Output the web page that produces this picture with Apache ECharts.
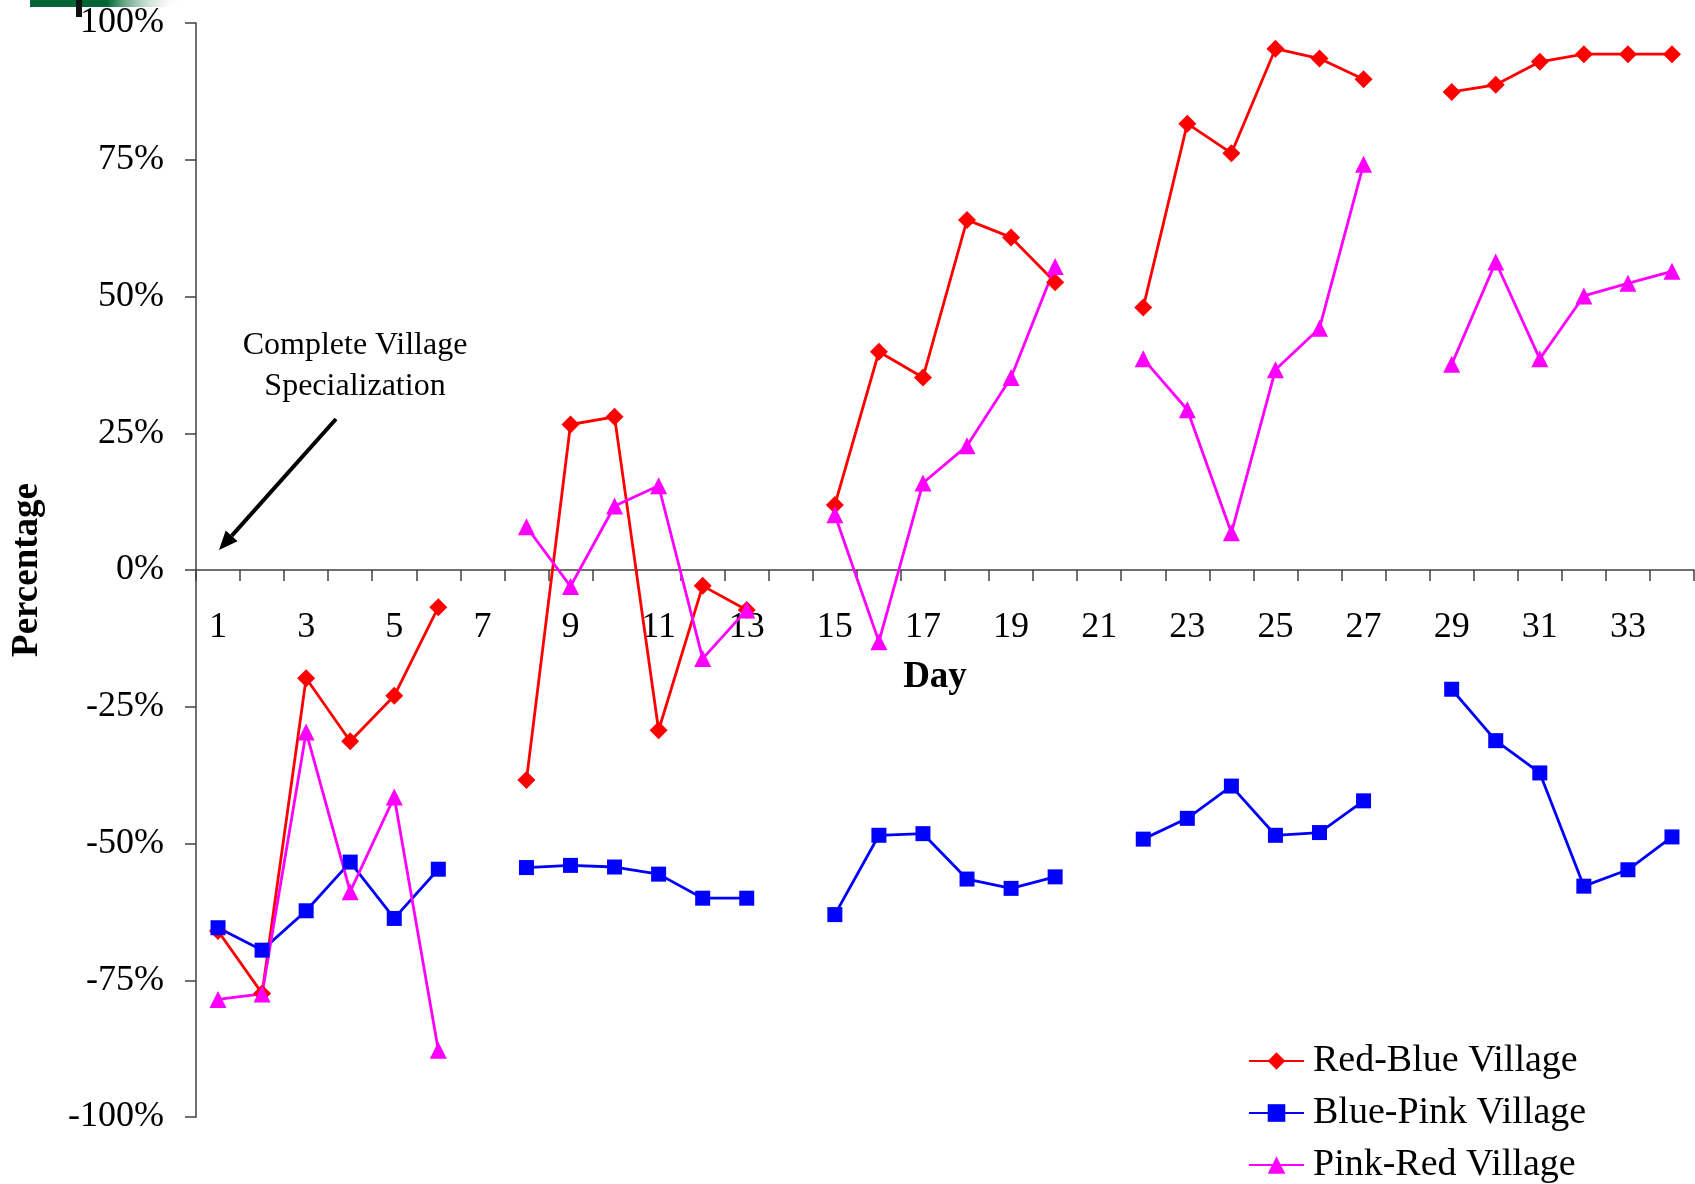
<!DOCTYPE html>
<html>
<head>
<meta charset="utf-8">
<script src="https://cdn.jsdelivr.net/npm/echarts@6/dist/echarts.min.js"></script>
<style>html,body{margin:0;padding:0;background:#fff;}#c{width:1695px;height:1184px;}</style>
</head>
<body>
<div id="c"></div>
<script>
const days = ['1','2','3','4','5','6','7','8','9','10','11','12','13','14','15','16','17','18','19','20','21','22','23','24','25','26','27','28','29','30','31','32','33','34'];
const yTicks = [-100, -75, -50, -25, 0, 25, 50, 75, 100];
const redBlue = [-66, -77.4, -19.8, -31.3, -23.0, -6.8, null, -38.4, 26.6, 28.0, -29.3, -2.9, -7.3, null, 11.9, 39.9, 35.2, 64.0, 60.8, 52.6, null, 48.0, 81.6, 76.2, 95.3, 93.5, 89.7, null, 87.4, 88.7, 92.9, 94.3, 94.3, 94.3];
const bluePink = [-65.4, -69.5, -62.3, -53.4, -63.7, -54.7, null, -54.4, -54.0, -54.3, -55.6, -60.0, -60.0, null, -63.0, -48.5, -48.2, -56.5, -58.2, -56.1, null, -49.2, -45.4, -39.5, -48.5, -48.0, -42.2, null, -21.8, -31.2, -37.1, -57.8, -54.8, -48.8];
const pinkRed = [-78.5, -77.5, -29.6, -58.8, -41.5, -87.8, null, 7.9, -3.0, 11.7, 15.4, -16.2, -7.3, null, 10.1, -13.1, 15.9, 22.7, 35.2, 55.5, null, 38.6, 29.3, 6.8, 36.6, 44.2, 74.2, null, 37.6, 56.3, 38.6, 50.1, 52.4, 54.6];
const seriesNames = ['Red-Blue Village', 'Blue-Pink Village', 'Pink-Red Village'];
const annotationText = 'Complete Village\nSpecialization';

const FONT = '"Liberation Serif", "Times New Roman", serif';
const chart = echarts.init(document.getElementById('c'));

const GRID_TOP = 23, GRID_BOTTOM = 67, H = 1184;
// x axis drawn at the zero line (middle of symmetric -100..100 range)
const zeroOffset = -((H - GRID_BOTTOM) - (GRID_TOP + (H - GRID_BOTTOM)) / 2);

// arrow geometry
const tail = [336, 419], tip = [219, 550];
const dx = tip[0] - tail[0], dy = tip[1] - tail[1];
const L = Math.sqrt(dx*dx + dy*dy);
const ux = dx / L, uy = dy / L, nx = -uy, ny = ux;
const headLen = 19, headW = 8;
const base = [tip[0] - headLen*ux, tip[1] - headLen*uy];

function mk(name, data, color, symbol, size) {
  return {
    name: name, type: 'line', data: data, connectNulls: false,
    symbol: symbol, symbolSize: size, showSymbol: true,
    lineStyle: {color: color, width: 2.8},
    itemStyle: {color: color},
    emphasis: {disabled: true},
    animation: false
  };
}

const legendTops = [1042, 1094, 1146];
const legends = seriesNames.map(function (n, i) {
  return {
    orient: 'vertical', left: 1248, top: legendTops[i], padding: 0,
    itemWidth: 55, itemHeight: 22, itemGap: 0,
    data: [n],
    textStyle: {fontFamily: FONT, fontSize: 38, color: '#000', lineHeight: 38, padding: [0, 0, 0, 4]}
  };
});

chart.setOption({
  animation: false,
  backgroundColor: '#fff',
  grid: {left: 196, right: 1, top: GRID_TOP, bottom: GRID_BOTTOM, containLabel: false, outerBoundsMode: 'none'},
  legend: legends,
  xAxis: {
    type: 'category', data: days, boundaryGap: true, position: 'bottom', offset: zeroOffset,
    name: 'Day', nameLocation: 'middle', nameGap: 89,
    nameTextStyle: {fontFamily: FONT, fontSize: 37, fontWeight: 'bold', color: '#000', padding: [0, 20, 0, 0]},
    axisLine: {onZero: false, lineStyle: {color: '#404040', width: 1.5}},
    axisTick: {show: true, interval: 0, length: 11, inside: false, lineStyle: {color: '#404040', width: 1.5}},
    axisLabel: {interval: 1, margin: 40, fontFamily: FONT, fontSize: 36, color: '#000'},
    splitLine: {show: false}
  },
  yAxis: {
    type: 'value', min: yTicks[0], max: yTicks[yTicks.length-1], interval: 25,
    name: 'Percentage', nameLocation: 'middle', nameGap: 150,
    nameTextStyle: {fontFamily: FONT, fontSize: 37, fontWeight: 'bold', color: '#000'},
    axisLine: {show: true, lineStyle: {color: '#404040', width: 1.5}},
    axisTick: {show: true, length: 11, lineStyle: {color: '#404040', width: 1.5}},
    axisLabel: {margin: 32, fontFamily: FONT, fontSize: 36, color: '#000', formatter: '{value}%'},
    splitLine: {show: false}
  },
  series: [
    mk(seriesNames[0], redBlue, '#FF0000', 'diamond', 18),
    mk(seriesNames[1], bluePink, '#0000FF', 'rect', 15),
    mk(seriesNames[2], pinkRed, '#FF00FF', 'triangle', 17)
  ],
  graphic: [
    {type: 'rect', shape: {x: 30, y: 0, width: 78, height: 7}, style: {fill: '#006633'}, silent: true},
    {type: 'rect', shape: {x: 107, y: 0, width: 75, height: 7}, silent: true,
      style: {fill: new echarts.graphic.LinearGradient(0, 0, 1, 0, [{offset: 0, color: '#006633'}, {offset: 1, color: 'rgba(255,255,255,0)'}])}},
    {type: 'rect', shape: {x: 76, y: 0, width: 6, height: 17}, style: {fill: '#111'}, silent: true},
    {type: 'text', x: 355, y: 325, silent: true,
      style: {text: annotationText, fontFamily: FONT, fontSize: 32, lineHeight: 41, fill: '#000', align: 'center', verticalAlign: 'top'}},
    {type: 'line', silent: true, shape: {x1: tail[0], y1: tail[1], x2: base[0], y2: base[1]}, style: {stroke: '#000', lineWidth: 4}},
    {type: 'polygon', silent: true,
      shape: {points: [tip, [base[0] + headW*nx, base[1] + headW*ny], [base[0] - headW*nx, base[1] - headW*ny]]},
      style: {fill: '#000'}}
  ]
});
</script>
</body>
</html>
